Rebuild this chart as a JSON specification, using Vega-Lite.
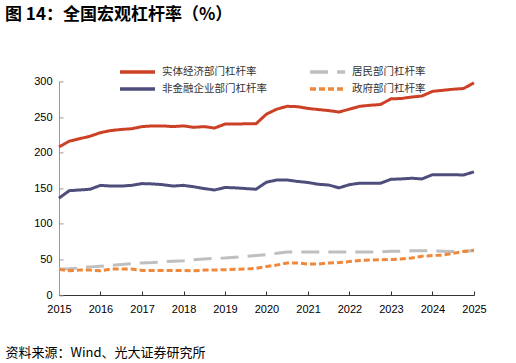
{
  "$schema": "https://vega.github.io/schema/vega-lite/v6.json",
  "width": 415,
  "height": 213.6,
  "autosize": {"type": "none"},
  "padding": {"left": 59, "top": 81.4, "right": 42, "bottom": 68},
  "background": "white",
  "title": {
    "text": "图 14：全国宏观杠杆率（%）",
    "anchor": "start",
    "frame": "group",
    "font": "Noto Sans CJK SC",
    "fontSize": 17,
    "fontWeight": "bold",
    "color": "#000000",
    "dx": -54,
    "offset": 39
  },
  "data": {
    "values": [
      {"date": "2015-01-01", "a": 208, "b": 36.5, "c": 136, "d": 36},
      {"date": "2015-04-01", "a": 216, "b": 37, "c": 146.5, "d": 34},
      {"date": "2015-07-01", "a": 219.5, "b": 38, "c": 147.5, "d": 35},
      {"date": "2015-10-01", "a": 223, "b": 39.5, "c": 148.5, "d": 35},
      {"date": "2016-01-01", "a": 228, "b": 40.5, "c": 154, "d": 34},
      {"date": "2016-04-01", "a": 231, "b": 41.5, "c": 153, "d": 36.5},
      {"date": "2016-07-01", "a": 232.5, "b": 43, "c": 153, "d": 36.5},
      {"date": "2016-10-01", "a": 233.5, "b": 44, "c": 154, "d": 36.5},
      {"date": "2017-01-01", "a": 236.5, "b": 45, "c": 156.5, "d": 34.5},
      {"date": "2017-04-01", "a": 237.5, "b": 45.5, "c": 156, "d": 34.5},
      {"date": "2017-07-01", "a": 237.5, "b": 46.5, "c": 155, "d": 34.5},
      {"date": "2017-10-01", "a": 236.5, "b": 47.5, "c": 153, "d": 34.5},
      {"date": "2018-01-01", "a": 237.5, "b": 48.2, "c": 154, "d": 34.5},
      {"date": "2018-04-01", "a": 235.5, "b": 49.5, "c": 152, "d": 34},
      {"date": "2018-07-01", "a": 236.5, "b": 50.5, "c": 149.5, "d": 35},
      {"date": "2018-10-01", "a": 234.5, "b": 51.5, "c": 147.5, "d": 35},
      {"date": "2019-01-01", "a": 240, "b": 52, "c": 151, "d": 35.5},
      {"date": "2019-04-01", "a": 240, "b": 53, "c": 150.5, "d": 36},
      {"date": "2019-07-01", "a": 240.5, "b": 54, "c": 149.5, "d": 36.5},
      {"date": "2019-10-01", "a": 240.5, "b": 55.5, "c": 148.5, "d": 37.5},
      {"date": "2020-01-01", "a": 254, "b": 56.8, "c": 158.5, "d": 40},
      {"date": "2020-04-01", "a": 261, "b": 58.5, "c": 161.5, "d": 42},
      {"date": "2020-07-01", "a": 265, "b": 60.4, "c": 161.5, "d": 45},
      {"date": "2020-10-01", "a": 264.5, "b": 60.5, "c": 159.5, "d": 45},
      {"date": "2021-01-01", "a": 262, "b": 60.5, "c": 158, "d": 43.5},
      {"date": "2021-04-01", "a": 260.5, "b": 60.5, "c": 155.5, "d": 43.5},
      {"date": "2021-07-01", "a": 259, "b": 60.5, "c": 154.5, "d": 45},
      {"date": "2021-10-01", "a": 257, "b": 60.5, "c": 150.5, "d": 45.5},
      {"date": "2022-01-01", "a": 261, "b": 60.5, "c": 155, "d": 47},
      {"date": "2022-04-01", "a": 265, "b": 60.5, "c": 157, "d": 48.5},
      {"date": "2022-07-01", "a": 266.5, "b": 60.5, "c": 157, "d": 49},
      {"date": "2022-10-01", "a": 267.5, "b": 60.5, "c": 157, "d": 49.5},
      {"date": "2023-01-01", "a": 275.5, "b": 61.3, "c": 162.5, "d": 50},
      {"date": "2023-04-01", "a": 276, "b": 61.5, "c": 163, "d": 50.5},
      {"date": "2023-07-01", "a": 278, "b": 62, "c": 164, "d": 52},
      {"date": "2023-10-01", "a": 279.5, "b": 62.3, "c": 163, "d": 54.5},
      {"date": "2024-01-01", "a": 286, "b": 62, "c": 169, "d": 55.5},
      {"date": "2024-04-01", "a": 287.5, "b": 61.5, "c": 169, "d": 56},
      {"date": "2024-07-01", "a": 289, "b": 61, "c": 169, "d": 58.5},
      {"date": "2024-10-01", "a": 290, "b": 61.5, "c": 168.5, "d": 61},
      {"date": "2025-01-01", "a": 298, "b": 62, "c": 173, "d": 63}
    ]
  },
  "transform": [
    {"fold": ["a", "b", "c", "d"], "as": ["key", "value"]},
    {"lookup": "key", "from": {"data": {"values": [
      {"key": "a", "series": "实体经济部门杠杆率"},
      {"key": "b", "series": "居民部门杠杆率"},
      {"key": "c", "series": "非金融企业部门杠杆率"},
      {"key": "d", "series": "政府部门杠杆率"}
    ]}, "key": "key", "fields": ["series"]}}
  ],
  "mark": {"type": "line", "strokeWidth": 3, "clip": false},
  "encoding": {
    "x": {
      "field": "date",
      "type": "temporal",
      "scale": {"domain": ["2015-01-01", "2025-01-01"], "nice": false},
      "axis": {
        "format": "%Y",
        "tickCount": {"interval": "year", "step": 1},
        "grid": false,
        "tickSize": -4,
        "domainColor": "#333333",
        "tickColor": "#333333",
        "labelColor": "#000000",
        "labelFont": "Liberation Sans",
        "labelFontSize": 11,
        "labelPadding": 12,
        "labelFlush": false,
        "title": "资料来源：Wind、光大证券研究所",
        "titleAnchor": "start",
        "titleAlign": "left",
        "titleBaseline": "middle",
        "titleX": -54,
        "titleY": 57,
        "titleFont": "Noto Sans CJK SC",
        "titleFontSize": 13,
        "titleFontWeight": "normal",
        "titleColor": "#000000"
      }
    },
    "y": {
      "field": "value",
      "type": "quantitative",
      "scale": {"domain": [0, 300], "nice": false},
      "axis": {
        "values": [0, 50, 100, 150, 200, 250, 300],
        "grid": false,
        "tickSize": -4,
        "domainColor": "#999999",
        "tickColor": "#999999",
        "labelColor": "#000000",
        "labelFont": "Liberation Sans",
        "labelFontSize": 11,
        "labelPadding": 11,
        "title": null
      }
    },
    "color": {
      "field": "series",
      "type": "nominal",
      "scale": {
        "domain": ["实体经济部门杠杆率", "非金融企业部门杠杆率", "居民部门杠杆率", "政府部门杠杆率"],
        "range": ["#CC4125", "#4E4E7C", "#BFBFBF", "#F0883C"]
      },
      "legend": {
        "orient": "none", "legendX": 59, "legendY": -18, "columns": 2, "title": null,
        "symbolType": "stroke", "symbolSize": 1225, "symbolStrokeWidth": 3.5,
        "labelFont": "Noto Sans CJK SC", "labelFontSize": 10.5, "labelColor": "#333333",
        "labelOffset": 5, "clipHeight": 17, "rowPadding": 0, "columnPadding": 41
      }
    },
    "strokeDash": {
      "field": "series",
      "type": "nominal",
      "scale": {
        "domain": ["实体经济部门杠杆率", "非金融企业部门杠杆率", "居民部门杠杆率", "政府部门杠杆率"],
        "range": [[1, 0], [1, 0], [18, 9], [6, 3]]
      },
      "legend": {
        "orient": "none", "legendX": 59, "legendY": -18, "columns": 2, "title": null,
        "symbolType": "stroke", "symbolSize": 1225, "symbolStrokeWidth": 3.5,
        "labelFont": "Noto Sans CJK SC", "labelFontSize": 10.5, "labelColor": "#333333",
        "labelOffset": 5, "clipHeight": 17, "rowPadding": 0, "columnPadding": 41
      }
    }
  },
  "config": {"view": {"stroke": null}}
}
